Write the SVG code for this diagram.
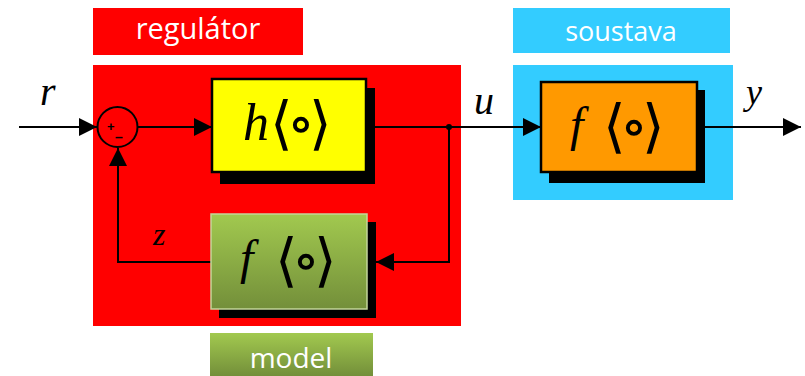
<svg xmlns="http://www.w3.org/2000/svg" width="805" height="376" viewBox="0 0 805 376">
  <defs>
    <linearGradient id="greenGrad" x1="0" y1="0" x2="0" y2="1">
      <stop offset="0" stop-color="#a2c94f"/>
      <stop offset="1" stop-color="#738f3a"/>
    </linearGradient>
    <marker id="arrowBig" viewBox="0 0 18 18" refX="18" refY="9" markerWidth="18" markerHeight="18" markerUnits="userSpaceOnUse" orient="auto">
      <path d="M0,0 L18,9 L0,18 z" fill="#000"/>
    </marker>
  </defs>
  <style>
    .label { font-family: "Open Sans", "Liberation Sans", sans-serif; fill: #fff; text-anchor: middle; }
    .math { font-family: "Liberation Serif", "DejaVu Serif", serif; fill: #000; }
    .var { font-style: italic; }
    .br { font-family: "DejaVu Serif", serif; font-size: 58px; letter-spacing: -6px; fill: #000; }
    .wire { stroke: #000; stroke-width: 2; fill: none; }
    .shadow { fill: #000; }
    .block { stroke: #000; stroke-width: 2.5; }
  </style>

  <!-- regulator area -->
  <g id="regulator">
    <rect x="93" y="8" width="210" height="47" fill="#ff0000"/>
    <text class="label" x="198" y="39" font-size="29">regulátor</text>
    <rect x="93" y="65" width="368" height="261" fill="#ff0000"/>
  </g>

  <!-- plant area -->
  <g id="soustava">
    <rect x="513" y="8" width="217" height="45" fill="#33ccff"/>
    <text class="label" x="621" y="41" font-size="27">soustava</text>
    <rect x="513" y="65" width="220" height="135" fill="#33ccff"/>
  </g>

  <!-- model caption -->
  <g id="model-label">
    <rect x="210" y="333" width="163" height="43" fill="url(#greenGrad)"/>
    <text class="label" x="291" y="368" font-size="28">model</text>
  </g>

  <!-- connectors -->
  <g id="connectors">
    <line class="wire" x1="19" y1="127" x2="97" y2="127" marker-end="url(#arrowBig)"/>
    <line class="wire" x1="138" y1="127" x2="212" y2="127" marker-end="url(#arrowBig)"/>
    <line class="wire" x1="366" y1="127" x2="541" y2="127" marker-end="url(#arrowBig)"/>
    <polyline class="wire" points="449,127 449,262 376,262" marker-end="url(#arrowBig)"/>
    <polyline class="wire" points="211,262 118,262 118,148" marker-end="url(#arrowBig)"/>
    <line class="wire" x1="697" y1="127" x2="801" y2="127" marker-end="url(#arrowBig)"/>
    <circle cx="449" cy="127" r="3" fill="#000"/>
  </g>

  <!-- summing junction -->
  <g id="sum">
    <circle cx="117.5" cy="127" r="20" fill="#ff0000" stroke="#000" stroke-width="2"/>
    <text x="107" y="131" font-family="Liberation Sans, sans-serif" font-size="13" font-weight="bold">+</text>
    <text x="115" y="142" font-family="Liberation Sans, sans-serif" font-size="14" font-weight="bold">–</text>
  </g>

  <!-- controller block h -->
  <g id="block-h">
    <rect class="shadow" x="220" y="88" width="155" height="96"/>
    <rect class="block" x="212" y="79" width="154" height="93" fill="#ffff00"/>
    <text class="math var" x="243" y="140" font-size="52">h</text>
    <text class="br" x="270" y="143">⟨∘⟩</text>
  </g>

  <!-- model block f -->
  <g id="block-model">
    <rect class="shadow" x="219" y="222" width="157" height="96"/>
    <rect x="211" y="214" width="156" height="95" fill="url(#greenGrad)" stroke="#c3d69b" stroke-width="1.5"/>
    <text class="math var" x="240" y="274" font-size="48">f</text>
    <text class="br" x="275" y="280">⟨∘⟩</text>
  </g>

  <!-- plant block f -->
  <g id="block-plant">
    <rect class="shadow" x="549" y="90" width="156" height="93"/>
    <rect class="block" x="541" y="82" width="156" height="90" fill="#ff9900"/>
    <text class="math var" x="570" y="141" font-size="48">f</text>
    <text class="br" x="603" y="146">⟨∘⟩</text>
  </g>

  <!-- signal names -->
  <g id="signal-labels" class="math var">
    <text x="40" y="105" font-size="40">r</text>
    <text x="474" y="114" font-size="40">u</text>
    <text x="746" y="104" font-size="36">y</text>
    <text x="153" y="245" font-size="32">z</text>
  </g>
</svg>
